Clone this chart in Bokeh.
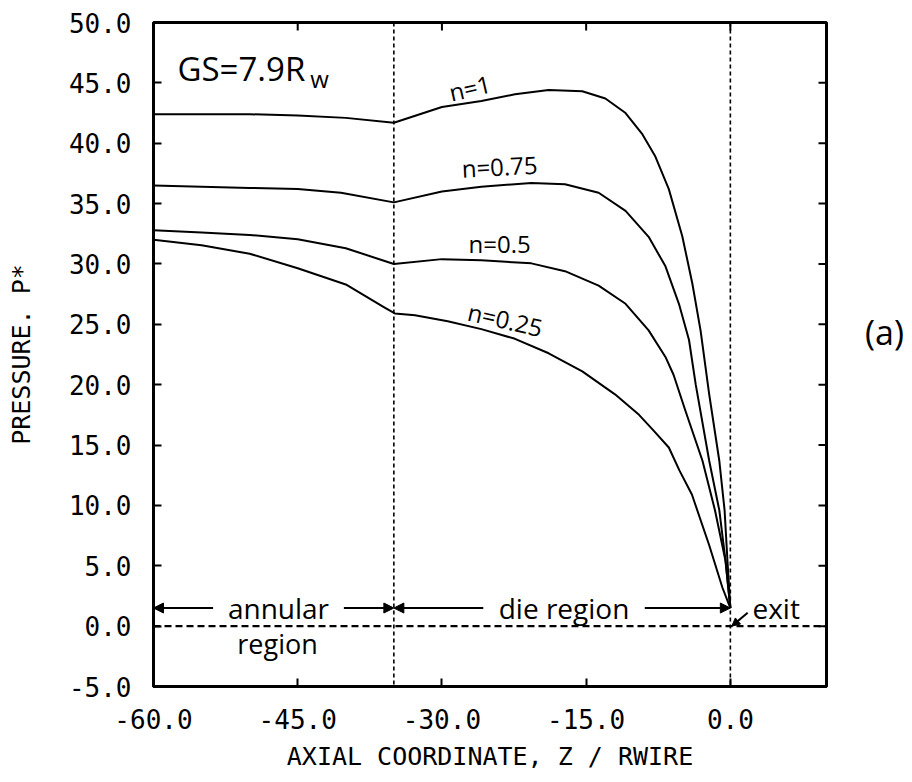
from bokeh.plotting import figure
from bokeh.models import Range1d, FixedTicker, Label, Arrow, NormalHead, Span, Div
from bokeh.layouts import row
from bokeh.embed import file_html
from bokeh.resources import INLINE

# ---- data ----
z_n1 = [-60, -50, -45, -40, -35, -30, -25.9, -22.4, -18.9, -15.4, -13.0, -10.9, -9.2, -7.8, -6.4, -5.0, -3.96, -3.1, -2.2, -1.15, -0.6, -0.3, 0]
p_n1 = [42.4, 42.4, 42.3, 42.1, 41.7, 43.0, 43.5, 44.05, 44.4, 44.3, 43.7, 42.5, 40.8, 38.9, 36.2, 32.3, 28.4, 24.5, 19.2, 13.7, 9.6, 5.4, 1.5]

z_n075 = [-60, -50, -45, -40.5, -35, -30, -25.9, -20.7, -17.2, -13.7, -10.9, -8.5, -6.75, -5.35, -4.3, -3.6, -2.2, -1.15, -0.5, 0]
p_n075 = [36.5, 36.3, 36.2, 35.9, 35.1, 36.0, 36.4, 36.7, 36.6, 35.9, 34.4, 32.25, 29.8, 26.7, 23.7, 20.0, 13.7, 9.6, 5.4, 1.5]

z_n05 = [-60, -55, -50, -45, -40, -35, -30, -25.9, -20.7, -17.2, -13.7, -10.9, -8.5, -6.75, -5.9, -4.7, -2.9, -1.6, -0.5, 0]
p_n05 = [32.8, 32.6, 32.4, 32.05, 31.3, 30.0, 30.4, 30.3, 30.05, 29.4, 28.2, 26.7, 24.5, 22.3, 20.8, 17.9, 13.7, 9.6, 5.4, 1.5]

z_n025 = [-60, -55, -50, -45, -40, -36, -34.9, -32.8, -29.4, -25.9, -22.4, -18.9, -15.4, -12.0, -9.5, -8.1, -6.4, -5.3, -4.0, -2.2, -0.83, 0]
p_n025 = [32.0, 31.55, 30.85, 29.65, 28.3, 26.4, 25.9, 25.75, 25.25, 24.6, 23.8, 22.6, 21.1, 19.2, 17.5, 16.3, 14.8, 12.9, 10.9, 6.7, 3.2, 1.5]

curve_labels = ["n=1", "n=0.75", "n=0.5", "n=0.25"]

x_ticks = [-60, -45, -30, -15, 0]
x_tick_labels = ["-60.0", "-45.0", "-30.0", "-15.0", "0.0"]
y_ticks = [-5, 0, 5, 10, 15, 20, 25, 30, 35, 40, 45, 50]
y_tick_labels = ["-5.0", "0.0", "5.0", "10.0", "15.0", "20.0", "25.0", "30.0", "35.0", "40.0", "45.0", "50.0"]
region_bounds = [-35, 0]

x_title = "AXIAL COORDINATE, Z / RWIRE"
y_title = "PRESSURE. P*"

X_MIN, X_MAX, Y_MIN, Y_MAX = -60, 10, -5, 50

# ---- figure ----
p = figure(width=830, height=782, output_backend="svg", toolbar_location=None,
           x_range=Range1d(X_MIN, X_MAX), y_range=Range1d(Y_MIN, Y_MAX),
           min_border_left=153, min_border_right=4, min_border_top=22, min_border_bottom=96)
p.grid.visible = False
p.background_fill_color = "white"
p.border_fill_color = "white"
p.outline_line_color = "black"
p.outline_line_width = 3

mono = "DejaVu Sans Mono"
ann = "Open Sans"

for ax in (p.xaxis[0], p.yaxis[0]):
    ax.axis_line_width = 3
    ax.major_tick_in = 8
    ax.major_tick_out = 0
    ax.major_tick_line_width = 2
    ax.minor_tick_line_color = None
    ax.major_label_text_font = mono
    ax.major_label_text_font_size = "26px"
    ax.major_label_text_color = "black"
    ax.major_label_standoff = 22
    ax.axis_label_text_font = mono
    ax.axis_label_text_font_size = "25px"
    ax.axis_label_text_font_style = "normal"
    ax.axis_label_text_color = "black"

p.xaxis[0].ticker = FixedTicker(ticks=x_ticks)
p.xaxis[0].major_label_overrides = dict(zip(x_ticks, x_tick_labels))
p.xaxis[0].axis_label = x_title
p.xaxis[0].axis_label_standoff = 10

p.yaxis[0].ticker = FixedTicker(ticks=y_ticks)
p.yaxis[0].major_label_overrides = dict(zip(y_ticks, y_tick_labels))
p.yaxis[0].axis_label = y_title
p.yaxis[0].axis_label_standoff = 30

# inward tick marks on the top and right frame edges
p.ray(x=x_ticks, y=[Y_MAX] * len(x_ticks), length=8, length_units="screen",
      angle=-90, angle_units="deg", line_color="black", line_width=2)
p.ray(x=[X_MAX] * len(y_ticks), y=y_ticks, length=8, length_units="screen",
      angle=180, angle_units="deg", line_color="black", line_width=2)

# region boundaries and zero line
for b in region_bounds:
    p.add_layout(Span(location=b, dimension="height", line_color="black",
                      line_dash="4 3", line_width=1.6))
p.add_layout(Span(location=0, dimension="width", line_color="black",
                  line_dash="7 4", line_width=2.2))

# curves
for zs, ps in ((z_n1, p_n1), (z_n075, p_n075), (z_n05, p_n05), (z_n025, p_n025)):
    p.line(zs, ps, line_color="black", line_width=2, line_join="round")

# curve labels
label_pos = [(-27.1, 44.6, 13), (-24.0, 38.1, 3), (-24.0, 31.7, 0), (-23.4, 25.4, -13)]
for txt, (lx, ly, ang) in zip(curve_labels, label_pos):
    p.add_layout(Label(x=lx, y=ly, text=txt, angle=ang, angle_units="deg",
                       text_align="center", text_baseline="middle",
                       text_font=ann, text_font_size="24px", text_color="black"))

# GS annotation
p.add_layout(Label(x=-57.5, y=46.2, text="GS=7.9R", text_align="left",
                   text_baseline="alphabetic", text_font=ann, text_font_size="33px",
                   text_color="black"))
p.add_layout(Label(x=-43.7, y=45.4, text="w", text_align="left",
                   text_baseline="alphabetic", text_font=ann, text_font_size="24px",
                   text_color="black"))

# region arrows
def arrow(x0, y0, x1, y1, size=10):
    p.add_layout(Arrow(x_start=x0, y_start=y0, x_end=x1, y_end=y1, line_width=2,
                       line_color="black",
                       end=NormalHead(size=size, fill_color="black", line_color="black")))

arrow(-53.8, 1.5, -60, 1.5)
arrow(-40.2, 1.5, -35, 1.5)
arrow(-25.7, 1.5, -35, 1.5)
arrow(-8.9, 1.5, 0, 1.5)
arrow(1.8, 1.1, 0.15, 0.0, size=8)

p.add_layout(Label(x=-47.0, y=1.5, text="annular", text_align="center", text_baseline="middle",
                   text_font=ann, text_font_size="28px", text_color="black"))
p.add_layout(Label(x=-47.1, y=-1.4, text="region", text_align="center", text_baseline="middle",
                   text_font=ann, text_font_size="27px", text_color="black"))
p.add_layout(Label(x=-17.3, y=1.5, text="die region", text_align="center", text_baseline="middle",
                   text_font=ann, text_font_size="28px", text_color="black"))
p.add_layout(Label(x=2.3, y=1.5, text="exit", text_align="left", text_baseline="middle",
                   text_font=ann, text_font_size="28px", text_color="black"))

# panel tag to the right of the frame
tag = Div(text="(a)", width=82, height=782, margin=0,
          styles={"padding-top": "309px", "padding-left": "35px", "font-size": "34px",
                  "font-family": "Open Sans", "color": "black", "line-height": "46px",
                  "box-sizing": "border-box", "background": "white"})

layout = row(p, tag, margin=0)
open("out.html", "w").write(file_html(layout, INLINE))
